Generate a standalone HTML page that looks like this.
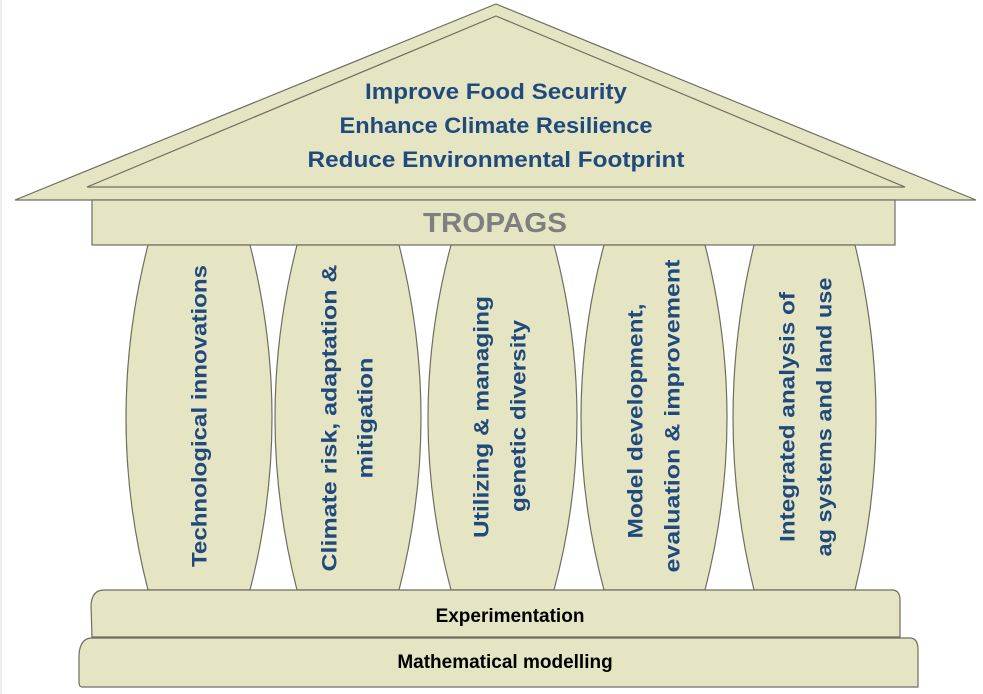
<!DOCTYPE html>
<html><head><meta charset="utf-8"><style>html,body{margin:0;padding:0;background:#fff}svg{display:block}</style></head>
<body>
<svg width="983" height="694" viewBox="0 0 983 694" xmlns="http://www.w3.org/2000/svg" font-family="Liberation Sans, sans-serif" font-weight="bold">
<rect x="0" y="0" width="2" height="694" fill="#eee"/>
<g fill="#e6e5c3" stroke="#6e6e60" stroke-width="1.2">
<polygon points="496,4 976,200 15,200"/>
<polygon points="496,16 905,187 87,187"/>
<rect x="92" y="200" width="803" height="45"/>
<path d="M148,245 Q104,418 148,590 L250,590 Q294,418 250,245 Z"/>
<path d="M297,245 Q253,418 297,590 L399,590 Q443,418 399,245 Z"/>
<path d="M451,245 Q405,418 451,590 L554,590 Q600,418 554,245 Z"/>
<path d="M604,245 Q558,418 604,590 L705,590 Q749,418 705,245 Z"/>
<path d="M754,245 Q712,418 754,590 L855,590 Q897,418 855,245 Z"/>
<path d="M104,590 L892,590 Q900,590 900,600 L900,637 L92,637 L91,605 Q92,590 104,590 Z"/>
<path d="M92,638 L910,638 Q918,638 918,650 L918,687 L82,687 Q79,687 79,682 L79,655 Q80,638 92,638 Z"/>
</g>
<g fill="#1f4a7e" font-size="22" text-anchor="middle">
<text x="496" y="99" textLength="262" lengthAdjust="spacingAndGlyphs">Improve Food Security</text>
<text x="496" y="133" textLength="313" lengthAdjust="spacingAndGlyphs">Enhance Climate Resilience</text>
<text x="496" y="167" textLength="377" lengthAdjust="spacingAndGlyphs">Reduce Environmental Footprint</text>
</g>
<text x="495" y="232" fill="#7f7f7f" font-size="28" text-anchor="middle" textLength="144" lengthAdjust="spacingAndGlyphs">TROPAGS</text>
<g fill="#1f4a7e" font-size="21" text-anchor="middle" dominant-baseline="central">
<text transform="translate(200,416) rotate(-90)" textLength="302" lengthAdjust="spacingAndGlyphs">Technological innovations</text>
<text transform="translate(330,418) rotate(-90)" textLength="307" lengthAdjust="spacingAndGlyphs">Climate  risk, adaptation &amp;</text>
<text transform="translate(366,418) rotate(-90)" textLength="121" lengthAdjust="spacingAndGlyphs">mitigation</text>
<text transform="translate(482,417) rotate(-90)" textLength="242" lengthAdjust="spacingAndGlyphs">Utilizing &amp; managing</text>
<text transform="translate(519,416) rotate(-90)" textLength="192" lengthAdjust="spacingAndGlyphs">genetic diversity</text>
<text transform="translate(636,421) rotate(-90)" textLength="235" lengthAdjust="spacingAndGlyphs">Model development,</text>
<text transform="translate(673,416) rotate(-90)" textLength="313" lengthAdjust="spacingAndGlyphs">evaluation &amp; improvement</text>
<text transform="translate(788,417) rotate(-90)" textLength="250" lengthAdjust="spacingAndGlyphs">Integrated analysis of</text>
<text transform="translate(825,417) rotate(-90)" textLength="279" lengthAdjust="spacingAndGlyphs">ag systems and land use</text>
</g>
<g fill="#000" font-size="19" text-anchor="middle">
<text x="510" y="622">Experimentation</text>
<text x="505" y="668">Mathematical modelling</text>
</g>
</svg>
</body></html>
